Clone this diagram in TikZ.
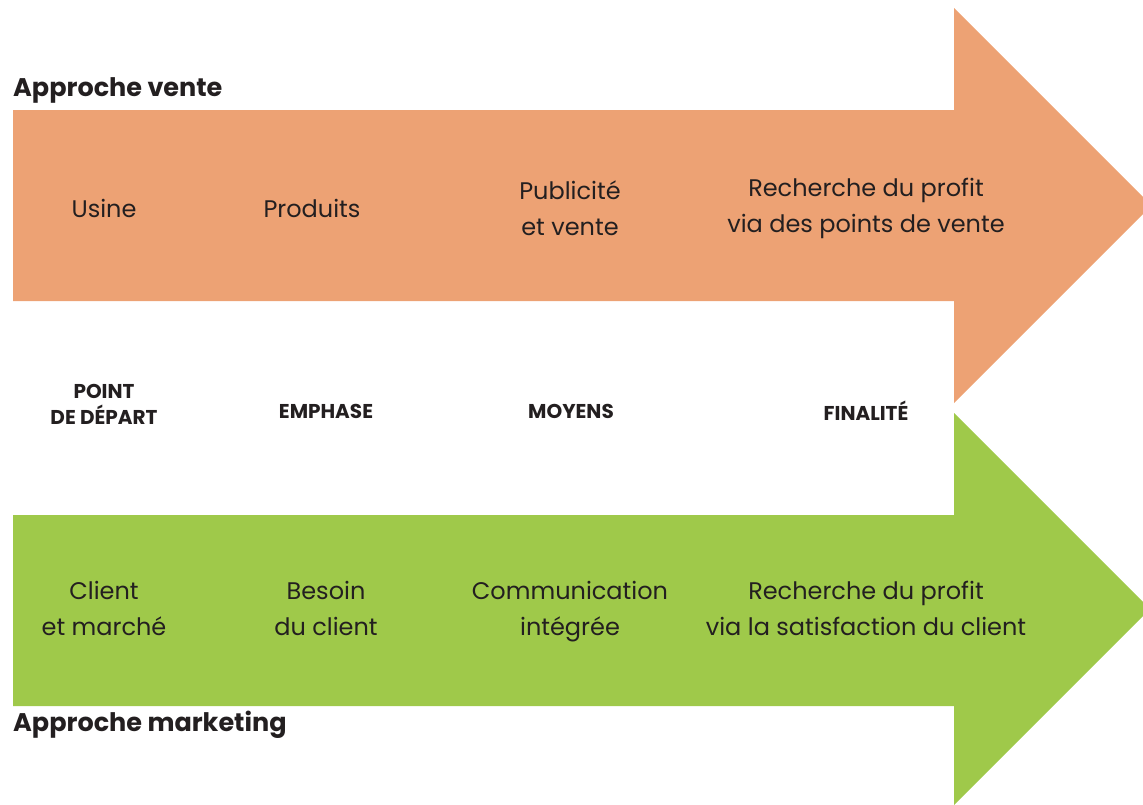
\documentclass[tikz,border=0pt]{standalone}
\usepackage{fontspec}
\setmainfont{Poppins}
\usetikzlibrary{positioning}

\definecolor{venteorange}{HTML}{EDA274}
\definecolor{marketgreen}{HTML}{9FC94A}
\definecolor{inkgrey}{HTML}{231F20}

\begin{document}
\begin{tikzpicture}[x=1pt, y=-1pt,
  stagetext/.style={font=\fontsize{24}{36}\selectfont, align=center, text=inkgrey, inner sep=0pt},
  rowhead/.style={font=\fontsize{20}{26}\selectfont\bfseries, align=center, text=inkgrey, inner sep=0pt},
  heading/.style={font=\fontsize{25.5}{26}\selectfont\bfseries, text=inkgrey, inner sep=0pt, anchor=base west}]
\useasboundingbox (0,0) rectangle (1143,804);
% sales arrow
\fill[venteorange] (13,110) -- (954,110) -- (954,8) -- (1151.5,205.5) -- (954,403) -- (954,301) -- (13,301) -- cycle;
% marketing arrow
\fill[marketgreen] (13,515) -- (954,515) -- (954,413) -- (1150,609) -- (954,805) -- (954,706) -- (13,706) -- cycle;
% titles
\node[heading] (vente) at (13,96) {Approche vente};
\node[heading] (marketing) at (13,731) {Approche marketing};
% top row
\node[stagetext] (usine) at (104,208) {Usine};
\node[stagetext] (produits) at (312,208) {Produits};
\node[stagetext] (pub) at (570,208) {Publicité\\et vente};
\node[stagetext] (profitvente) at (866,208) {Recherche du profit\\via des points de vente};
% middle row
\node[rowhead] (depart) at (104,404) {POINT\\DE DÉPART};
\node[rowhead] (emphase) at (326,411) {EMPHASE};
\node[rowhead] (moyens) at (571,411) {MOYENS};
\node[rowhead] (finalite) at (866,411) {FINALITÉ};
% bottom row
\node[stagetext] (client) at (104,608) {Client\\et marché};
\node[stagetext] (besoin) at (326,608) {Besoin\\du client};
\node[stagetext] (comm) at (570,612) {Communication\\intégrée};
\node[stagetext] (profitclient) at (866,608) {Recherche du profit\\via la satisfaction du client};
\end{tikzpicture}
\end{document}
